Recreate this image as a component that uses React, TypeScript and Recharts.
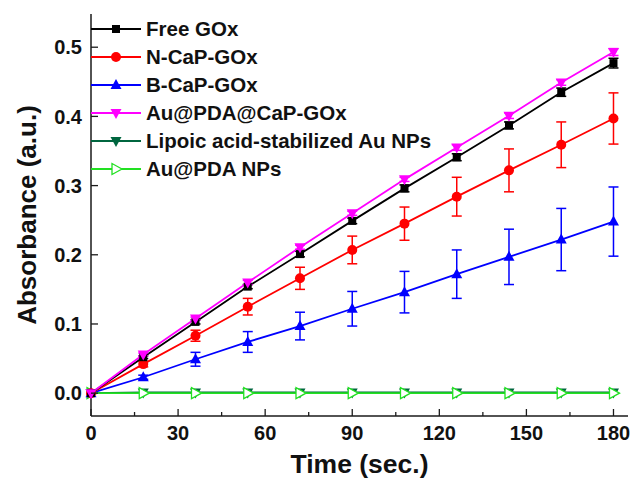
import React from 'react';
import { ErrorBar, Line, LineChart, XAxis, YAxis } from 'recharts';

// time points (sec.)
const times = [0, 18, 36, 54, 72, 90, 108, 126, 144, 162, 180];

const freeGOx = [0, 0.052, 0.103, 0.154, 0.201, 0.249, 0.296, 0.341, 0.387, 0.435, 0.477];
const freeGOxErr = [0, 0.002, 0.003, 0.003, 0.004, 0.004, 0.005, 0.005, 0.005, 0.006, 0.007];
const nCaP = [0, 0.042, 0.083, 0.125, 0.166, 0.207, 0.245, 0.284, 0.322, 0.359, 0.397];
const nCaPErr = [0, 0.004, 0.008, 0.012, 0.016, 0.02, 0.024, 0.028, 0.031, 0.033, 0.037];
const bCaP = [0, 0.023, 0.049, 0.074, 0.097, 0.122, 0.146, 0.172, 0.197, 0.222, 0.248];
const bCaPErr = [0, 0.003, 0.01, 0.015, 0.02, 0.025, 0.03, 0.035, 0.04, 0.045, 0.05];
const auPdaCaP = [0, 0.056, 0.108, 0.16, 0.211, 0.26, 0.309, 0.355, 0.401, 0.449, 0.493];
const auPdaCaPErr = [0, 0.002, 0.002, 0.003, 0.003, 0.003, 0.003, 0.004, 0.004, 0.004, 0.005];
const lipoicAu = [0, 0.001, 0.001, 0.001, 0.001, 0.001, 0.001, 0.001, 0.001, 0.001, 0.001];
const auPdaNPs = [0, 0, 0, 0, 0, 0, 0, 0, 0, 0, 0];

const xTicks = [0, 15, 30, 45, 60, 75, 90, 105, 120, 135, 150, 165, 180];
const yTicks = [0, 0.1, 0.2, 0.3, 0.4, 0.5];

const FONT = '"Liberation Sans", Arial, sans-serif';
const AXIS = '#1a1a1a';

const series = [
  { key: 'free', err: 'freeErr', name: 'Free GOx', color: '#000000', shape: 'square' },
  { key: 'ncap', err: 'ncapErr', name: 'N-CaP-GOx', color: '#ff0000', shape: 'circle' },
  { key: 'bcap', err: 'bcapErr', name: 'B-CaP-GOx', color: '#0000ff', shape: 'up' },
  { key: 'aupda', err: 'aupdaErr', name: 'Au@PDA@CaP-GOx', color: '#ff00ff', shape: 'down' },
  { key: 'lipoic', err: null, name: 'Lipoic acid-stabilized Au NPs', color: '#00663f', shape: 'down' },
  { key: 'nps', err: null, name: 'Au@PDA NPs', color: '#22e022', shape: 'right' },
];

// drawing order: the flat curves first (light green on top of dark green), then the rest
const drawOrder = ['lipoic', 'nps', 'bcap', 'ncap', 'free', 'aupda'];

const data = times.map((t, i) => ({
  t,
  free: freeGOx[i],
  freeErr: freeGOxErr[i],
  ncap: nCaP[i],
  ncapErr: nCaPErr[i],
  bcap: bCaP[i],
  bcapErr: bCaPErr[i],
  aupda: auPdaCaP[i],
  aupdaErr: auPdaCaPErr[i],
  lipoic: lipoicAu[i],
  nps: auPdaNPs[i],
}));

function Marker({ cx, cy, shape, color }: { cx: number; cy: number; shape: string; color: string }) {
  if (cx == null || cy == null) return null;
  if (shape === 'square') {
    return <rect x={cx - 4} y={cy - 4} width={8} height={8} fill={color} />;
  }
  if (shape === 'circle') {
    return <circle cx={cx} cy={cy} r={5} fill={color} />;
  }
  if (shape === 'up') {
    return <polygon points={`${cx},${cy - 6} ${cx - 5.5},${cy + 4} ${cx + 5.5},${cy + 4}`} fill={color} />;
  }
  if (shape === 'down') {
    return <polygon points={`${cx},${cy + 6} ${cx - 5.5},${cy - 4} ${cx + 5.5},${cy - 4}`} fill={color} />;
  }
  return (
    <polygon
      points={`${cx + 6},${cy} ${cx - 4},${cy - 5.5} ${cx - 4},${cy + 5.5}`}
      fill="#ffffff"
      stroke={color}
      strokeWidth={1.3}
    />
  );
}

const X_MARGIN = 10;
const Y_MARGIN = 9;

function XTick(props: any) {
  const { x, y, payload } = props;
  const axisY = y - X_MARGIN;
  const major = payload.value % 30 === 0;
  return (
    <g>
      <line x1={x} x2={x} y1={axisY} y2={axisY - (major ? 7 : 4)} stroke={AXIS} strokeWidth={1.3} />
      {major && (
        <text x={x} y={y} dy="0.71em" textAnchor="middle" fontFamily={FONT} fontWeight="bold" fontSize={20} fill="#111">
          {payload.value}
        </text>
      )}
    </g>
  );
}

function YTick(props: any) {
  const { x, y, payload } = props;
  const axisX = x + Y_MARGIN;
  return (
    <g>
      <line x1={axisX} x2={axisX + 7} y1={y} y2={y} stroke={AXIS} strokeWidth={1.3} />
      <text x={x} y={y} dy="0.355em" textAnchor="end" fontFamily={FONT} fontWeight="bold" fontSize={20} fill="#111">
        {payload.value.toFixed(1)}
      </text>
    </g>
  );
}

function ChartLegend() {
  return (
    <div style={{ position: 'absolute', top: 15, left: 91, fontFamily: FONT, pointerEvents: 'none' }}>
      {series.map((s) => (
        <div key={s.key} style={{ display: 'flex', alignItems: 'center', height: 28 }}>
          <svg width={50} height={28} style={{ display: 'block' }}>
            <line x1={0} x2={50} y1={14} y2={14} stroke={s.color} strokeWidth={1.8} />
            <Marker cx={25} cy={14} shape={s.shape} color={s.color} />
          </svg>
          <span style={{ marginLeft: 5, fontWeight: 'bold', fontSize: 20.5, color: '#111', whiteSpace: 'nowrap' }}>
            {s.name}
          </span>
        </div>
      ))}
    </div>
  );
}

export default function App() {
  const ordered = drawOrder.map((k) => series.find((s) => s.key === k)!);
  return (
    <div style={{ position: 'absolute', left: 0, top: 0, width: 635, height: 481, background: '#fff' }}>
      <LineChart width={635} height={481} data={data} margin={{ top: 14, right: 7, left: 0, bottom: 0 }}>
        <XAxis
          dataKey="t"
          type="number"
          domain={[0, 185]}
          ticks={xTicks}
          interval={0}
          height={65}
          tickSize={0}
          tickMargin={X_MARGIN}
          tickLine={false}
          axisLine={{ stroke: AXIS, strokeWidth: 1.5 }}
          tick={<XTick />}
          label={{
            content: ({ viewBox }: any) => (
              <text
                x={viewBox.x + viewBox.width / 2}
                y={viewBox.y + 57}
                textAnchor="middle"
                fontFamily={FONT}
                fontWeight="bold"
                fontSize={26.5}
                fill="#111"
              >
                Time (sec.)
              </text>
            ),
          }}
        />
        <XAxis
          xAxisId="top"
          dataKey="t"
          type="number"
          orientation="top"
          domain={[0, 185]}
          height={0}
          tick={false}
          tickLine={false}
          axisLine={{ stroke: AXIS, strokeWidth: 1.5 }}
        />
        <YAxis
          type="number"
          domain={[-0.033, 0.548]}
          ticks={yTicks}
          interval={0}
          width={91}
          tickSize={0}
          tickMargin={Y_MARGIN}
          tickLine={false}
          axisLine={{ stroke: AXIS, strokeWidth: 1.5 }}
          tick={<YTick />}
          label={{
            content: ({ viewBox }: any) => {
              const cx = 27;
              const cy = viewBox.y + viewBox.height / 2;
              return (
                <text
                  x={cx}
                  y={cy}
                  dy="0.355em"
                  textAnchor="middle"
                  transform={`rotate(-90 ${cx} ${cy})`}
                  fontFamily={FONT}
                  fontWeight="bold"
                  fontSize={26}
                  fill="#111"
                >
                  Absorbance (a.u.)
                </text>
              );
            },
          }}
        />
        <YAxis
          yAxisId="right"
          orientation="right"
          type="number"
          domain={[-0.033, 0.548]}
          width={0}
          tick={false}
          tickLine={false}
          axisLine={{ stroke: AXIS, strokeWidth: 1.5 }}
        />
        {ordered.map((s) => (
          <Line
            key={s.key}
            dataKey={s.key}
            name={s.name}
            type="linear"
            stroke={s.color}
            strokeWidth={1.8}
            isAnimationActive={false}
            dot={(p: any) => <Marker key={`${s.key}-${p.index}`} cx={p.cx} cy={p.cy} shape={s.shape} color={s.color} />}
            activeDot={false}
          >
            {s.err && (
              <ErrorBar dataKey={s.err} width={5} stroke={s.color} strokeWidth={1.5} isAnimationActive={false} />
            )}
          </Line>
        ))}
      </LineChart>
      <ChartLegend />
    </div>
  );
}
